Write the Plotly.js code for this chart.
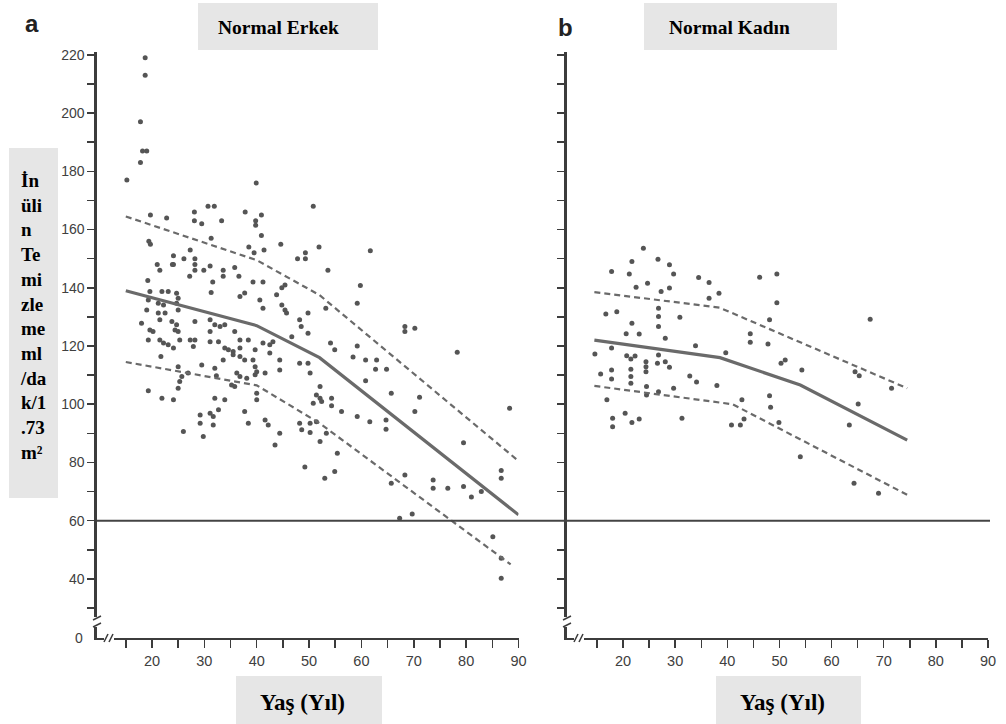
<!DOCTYPE html>
<html>
<head>
<meta charset="utf-8">
<script src="https://cdn.plot.ly/plotly-3.0.1.min.js"></script>
<style>html,body{margin:0;padding:0;background:#fff;}#chart{width:1006px;height:724px;}</style>
</head>
<body>
<div id="chart"></div>
<script>
// ---------- DATA ----------
const panelTitles = ["Normal Erkek", "Normal Kadın"];
const panelLetters = ["a", "b"];
const yAxisTitle = "İn<br>üli<br>n<br>Te<br>mi<br>zle<br>me<br>ml<br>/da<br>k/1<br>.73<br>m²";
const xAxisTitle = "Yaş (Yıl)";

const xTickVals = [20, 30, 40, 50, 60, 70, 80, 90];
const xMinorVals = [15, 25, 35, 45, 55, 65, 75, 85];
const yTickVals = [40, 60, 80, 100, 120, 140, 160, 180, 200, 220];
const yTickText = ["40", "60", "80", "100", "120", "140", "160", "180", "200", "220"];
const yMinorVals = [30, 50, 70, 90, 110, 130, 150, 170, 190, 210];
const yBrokenZeroLabel = "0";
const thresholdGFR = 60;

// Male (a) scatter
const maleAge = [18.7,18.7,17.8,18.2,19.0,17.8,15.2,39.9,30.7,31.9,50.8,19.7,22.8,28.1,28.1,29.5,33.3,37.8,40.9,39.8,39.8,40.9,19.4,19.7,31.3,27.3,38.5,39.5,41.4,44.6,51.9,49.3,49.3,47.8,24.1,24.1,26.1,28.2,28.2,28.2,21.0,21.5,31.1,29.9,27.2,33.6,33.6,35.8,36.6,53.6,31.6,39.3,41.2,19.2,23.9,
31.3,45.4,44.8,36.8,37.7,40.6,41.2,43.8,44.8,45.4,45.7,49.8,48.2,48.5,49.8,46.7,19.6,19.3,19.0,21.9,23.1,24.7,25.0,24.7,25.0,21.2,22.2,21.2,22.5,21.5,18.0,19.6,20.2,23.8,24.7,24.4,25.0,25.3,24.1,19.3,21.5,22.2,23.1,21.7,28.2,27.3,28.2,27.9,31.1,32.0,33.0,33.9,31.1,31.1,35.8,32.7,33.9,34.6,35.5,36.8,36.8,38.4,39.7,41.2,42.5,43.1,42.5,33.6,35.5,36.8,37.7,39.3,44.4,44.4,39.7,40.0,41.6,48.2,49.8,50.2,
25.0,25.7,26.9,29.5,32.0,32.3,25.3,25.0,19.3,21.9,24.1,35.2,35.8,36.2,36.8,38.1,39.7,40.0,40.0,32.0,33.9,31.1,31.7,32.7,29.2,29.2,31.7,29.8,26.0,37.7,38.4,41.6,42.2,44.4,43.5,51.4,52.1,50.8,52.1,48.2,48.6,50.2,51.4,52.1,50.2,53.3,49.2,53.0,
59.8,59.2,53.2,54.1,54.9,59.2,58.4,60.8,62.9,62.7,64.8,68.3,68.3,70.2,78.3,60.8,65.7,71.1,52.4,54.3,54.3,56.2,59.2,61.6,64.7,64.7,70.2,88.3,79.5,54.9,55.4,65.7,68.3,73.7,73.7,76.5,79.5,81.0,82.9,86.7,86.7,69.7,67.3,85.1,86.7,86.7,61.7];
const maleGFR = [219,213,197,187,187,183,177,176,168,168,168,165,164,166,163,162,163,166,165,163,161.5,158,156,155,157,153,154,152,153,155,154,152,150,150,151,148,150,150,148,146,148,146,147.5,146,144,146,144,147,144,146,142,142,142,142.5,148,
138.4,141,140,137,138.2,135.8,133,137.6,134.1,132.4,131.3,131.3,129,126.7,124.4,123.2,138.7,135.8,132.4,138.7,138.7,138.1,136.4,134.7,132.4,134.7,134.1,131.3,131.3,129,127.8,125.5,125,128.4,127.3,125.5,125,122.1,119.3,122.1,122.1,121,120.4,116.4,128.4,122.1,122.1,119.8,129,127.3,126.7,127.3,125,121.5,125,121.5,119.3,118.7,118.1,122.1,119.3,122.1,118.7,121,120.4,121.5,117.6,115.2,117,116.4,115.2,115.2,115.2,111.8,112.9,111.2,110.7,114.1,114.1,110.7,
112.9,109.5,110.7,113.5,112.4,109.8,107.8,105.5,104.6,102.1,101.5,106.6,106.1,110.7,109.5,108.9,110.1,103.8,101.5,102.1,101.5,96.9,95.8,98.1,96.3,93.5,92.9,88.9,90.6,97.5,93.5,94.6,92.9,90,86,103.2,102.1,100.3,106.1,93.5,91.2,93.5,94,87.2,90.3,90,78.4,74.6,
140.8,134.7,133,121,118.7,120,116.2,115.2,115.2,112,112,126.7,125,126.1,117.9,108.1,103.8,102.4,100.9,102.1,99.5,97.5,95.8,94,94.6,91.4,97.5,98.6,86.8,76.9,83.2,72.9,75.7,74,71.1,71.1,71.7,68.1,70,77.2,74.6,62.3,60.8,54.5,47.1,40.2,152.7];

// Male fitted lines
const maleMeanAge = [15, 40, 52, 90];
const maleMeanGFR = [139, 127, 116, 62];
const maleUpperAge = [15, 40, 52, 90];
const maleUpperGFR = [164.5, 149.5, 137.5, 80.5];
const maleLowerAge = [15, 40, 52, 88.5];
const maleLowerGFR = [114.5, 106.5, 93.5, 45];

// Female (b) scatter
const femaleAge = [23.9,21.7,26.7,28.9,29.7,17.8,21.2,24.7,22.5,27.3,28.9,34.5,36.5,38.4,36.5,46.2,49.5,49.5,26.8,26.8,26.8,16.7,18.8,21.7,30.9,20.6,23.1,28.1,48.1,44.4,44.4,47.8,33.9,67.4,17.8,14.6,20.7,26.8,26.6,28.1,28.9,21.5,22.3,24.4,24.4,24.4,21.5,21.5,21.5,17.8,17.8,15.7,32.8,34.1,39.7,38.0,50.3,51.1,54.3,64.5,65.3,71.5,48.1,48.3,42.8,40.8,42.5,43.2,49.9,24.5,24.5,26.8,29.7,16.9,20.4,18.0,18.0,21.7,23.1,31.3,63.4,65.1,54.0,64.3,69.0];
const femaleGFR = [153.6,149,149.8,147.9,144.7,145.6,144.7,141.6,140.2,138.7,139.9,143.5,141.8,138.1,136.4,143.6,144.7,134.9,133,130.1,126.7,131,131.8,127.8,129.9,124.2,124.1,122.7,129,124.2,121.3,120.7,120.1,129.2,119.3,117.3,116.7,116.9,114.1,114.6,112.7,115.5,116.6,114.6,112.9,111.2,112,109.5,107.2,111.8,108.7,110.4,109.7,107.6,117.7,106.4,114.1,115.2,111.8,111.2,109.8,105.5,102.9,99,101.5,92.9,92.9,94.9,93.7,106.1,103.2,104.3,105.5,101.5,96.9,95.2,92.3,93.7,94.9,95.2,92.9,100.1,82,72.9,69.4];

// Female fitted lines
const femaleMeanAge = [14.5, 38.6, 54, 74.5];
const femaleMeanGFR = [122, 116, 106.6, 87.7];
const femaleUpperAge = [14.5, 38.5, 74.5];
const femaleUpperGFR = [138.5, 133.2, 105.5];
const femaleLowerAge = [14.5, 41, 74.5];
const femaleLowerGFR = [106.3, 100, 68.9];

// ---------- STYLE / LAYOUT ----------
const W = 1006, H = 724;
const fx = p => p / W;
const fy = p => 1 - p / H;
const markColor = '#555555';
const lineColor = '#6a6a6a';
const axisColor = '#3c3c3c';
const boxFill = '#e6e6e6';
const serif = 'Liberation Serif, Times New Roman, serif';
const sans = 'Liberation Sans, Arial, Helvetica, sans-serif';

function scatter(x, y, xa, ya) {
  return {x, y, xaxis: xa, yaxis: ya, type: 'scatter', mode: 'markers',
    marker: {size: 5, color: markColor}, hoverinfo: 'x+y'};
}
function line(x, y, xa, ya, dashed) {
  return {x, y, xaxis: xa, yaxis: ya, type: 'scatter', mode: 'lines',
    line: {color: lineColor, width: dashed ? 2.2 : 3.2, dash: dashed ? '6px,4px' : 'solid'}, hoverinfo: 'skip'};
}

const traces = [
  scatter(maleAge, maleGFR, 'x', 'y'),
  line(maleMeanAge, maleMeanGFR, 'x', 'y', false),
  line(maleUpperAge, maleUpperGFR, 'x', 'y', true),
  line(maleLowerAge, maleLowerGFR, 'x', 'y', true),
  scatter(femaleAge, femaleGFR, 'x2', 'y2'),
  line(femaleMeanAge, femaleMeanGFR, 'x2', 'y2', false),
  line(femaleUpperAge, femaleUpperGFR, 'x2', 'y2', true),
  line(femaleLowerAge, femaleLowerGFR, 'x2', 'y2', true)
];

const yDomain = [fy(638), fy(52)];
function xAxis(domain, range, anchor) {
  return {domain, range, anchor, showgrid: false, zeroline: false, showline: true,
    linecolor: axisColor, linewidth: 2.2, ticks: 'outside', ticklen: 8, tickwidth: 1.5,
    tickcolor: axisColor, tickmode: 'array', tickvals: xTickVals,
    tickfont: {family: sans, size: 14.5, color: '#404040'},
    minor: {tickmode: 'array', tickvals: xMinorVals, ticks: 'outside', ticklen: 8, tickwidth: 1.5, tickcolor: axisColor},
    fixedrange: true};
}
function yAxis(anchor, showLabels) {
  return {domain: yDomain, range: [19.7, 221], anchor, showgrid: false, zeroline: false,
    showline: true, linecolor: axisColor, linewidth: 2.6, ticks: 'outside', ticklen: 7,
    tickwidth: 1.5, tickcolor: axisColor, tickmode: 'array', tickvals: yTickVals,
    ticktext: yTickText, showticklabels: showLabels,
    tickfont: {family: sans, size: 14, color: '#404040'},
    minor: {tickmode: 'array', tickvals: yMinorVals, ticks: 'outside', ticklen: 7, tickwidth: 1.5, tickcolor: axisColor},
    fixedrange: true};
}

function rect(x0, y0, x1, y1, fill) {
  return {type: 'rect', xref: 'paper', yref: 'paper', x0: fx(x0), x1: fx(x1), y0: fy(y1), y1: fy(y0),
    fillcolor: fill, line: {width: 0}, layer: 'above'};
}
function seg(x0, y0, x1, y1, w) {
  return {type: 'line', xref: 'paper', yref: 'paper', x0: fx(x0), y0: fy(y0), x1: fx(x1), y1: fy(y1),
    line: {color: axisColor, width: w || 1.5}, layer: 'above'};
}
function breaks(ax) {
  // ax = pixel position of the y-axis line
  return [
    rect(ax - 5, 617, ax + 5, 627, '#ffffff'),
    seg(ax - 4, 620, ax + 4, 616), seg(ax - 4, 627, ax + 4, 623),
    rect(ax + 7, 634, ax + 17, 642, '#ffffff'),
    seg(ax + 7, 642, ax + 11, 634), seg(ax + 12, 642, ax + 16, 634)
  ];
}

const shapes = [
  rect(198, 3, 378, 50, boxFill),
  rect(644, 3, 837, 50, boxFill),
  rect(9, 148, 58, 498, boxFill),
  rect(236, 676, 382, 724, boxFill),
  rect(716, 676, 861, 724, boxFill),
  {type: 'line', xref: 'paper', yref: 'y', x0: fx(97), x1: fx(990), y0: thresholdGFR, y1: thresholdGFR,
   line: {color: '#444444', width: 2}, layer: 'above'},
  ...breaks(97), ...breaks(567)
];

function ann(text, x, y, opts) {
  return Object.assign({text, xref: 'paper', yref: 'paper', x: fx(x), y: fy(y), showarrow: false,
    xanchor: 'center', yanchor: 'middle'}, opts);
}
const titleFont = {family: serif, size: 19.5, color: '#000'};
const annotations = [
  ann('<b>' + panelLetters[0] + '</b>', 32, 23, {font: {family: sans, size: 24, color: '#222'}}),
  ann('<b>' + panelLetters[1] + '</b>', 565, 27, {font: {family: sans, size: 24, color: '#222'}}),
  ann('<b>' + panelTitles[0] + '</b>', 278, 27, {font: titleFont}),
  ann('<b>' + panelTitles[1] + '</b>', 729, 27, {font: titleFont}),
  ann('<b>' + yAxisTitle + '</b>', 18, 316, {xanchor: 'left', align: 'left', font: {family: serif, size: 19, color: '#000'}}),
  ann('<b>' + xAxisTitle + '</b>', 302, 702, {font: {family: serif, size: 23, color: '#000'}}),
  ann('<b>' + xAxisTitle + '</b>', 782, 702, {font: {family: serif, size: 23, color: '#000'}}),
  {text: yBrokenZeroLabel, xref: 'paper', yref: 'y', x: fx(85), y: 19.7, xanchor: 'right', yanchor: 'middle',
   showarrow: false, font: {family: sans, size: 14, color: '#404040'}}
];

const layout = {
  width: W, height: H, margin: {l: 0, r: 0, t: 0, b: 0, pad: 0},
  paper_bgcolor: '#ffffff', plot_bgcolor: 'rgba(0,0,0,0)', showlegend: false,
  xaxis: xAxis([fx(97), fx(518.5)], [9.5, 90], 'y'),
  xaxis2: xAxis([fx(567), fx(988)], [9.25, 90], 'y2'),
  yaxis: yAxis('x', true),
  yaxis2: yAxis('x2', false),
  shapes, annotations
};

Plotly.newPlot('chart', traces, layout, {displayModeBar: false, staticPlot: true});
</script>
</body>
</html>
